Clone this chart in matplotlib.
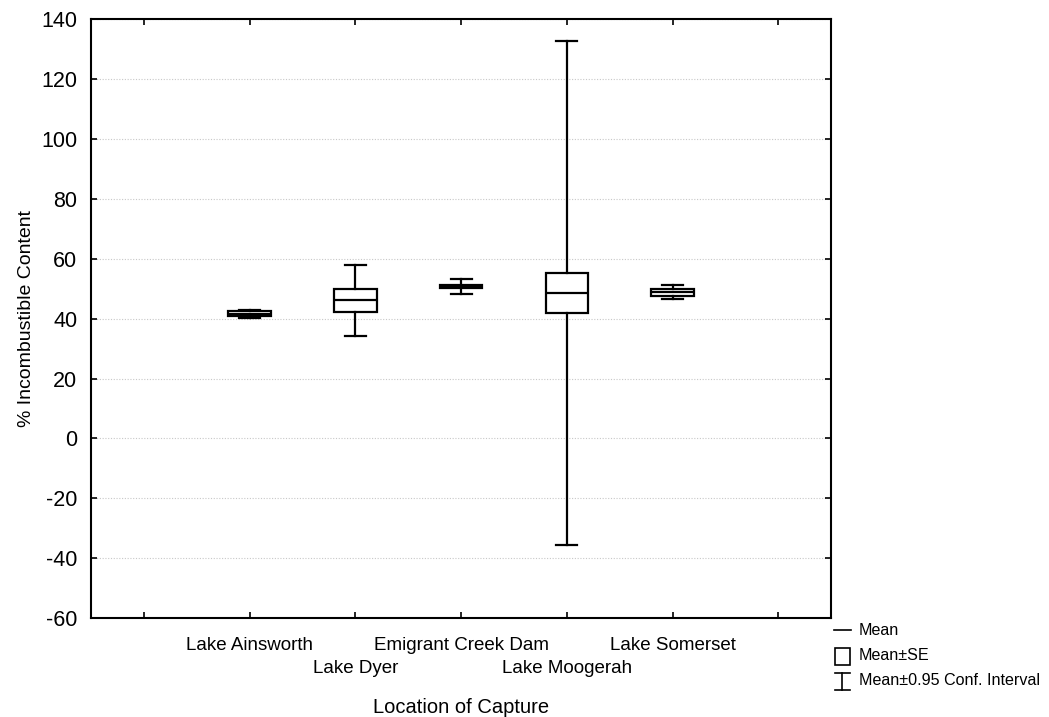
import numpy as np
import matplotlib
matplotlib.use("Agg")
import matplotlib.pyplot as plt
from matplotlib.lines import Line2D
from matplotlib.patches import Rectangle
from matplotlib.legend_handler import HandlerBase

plt.rcParams['axes.unicode_minus'] = False
NARROW = ['Liberation Sans Narrow', 'Liberation Sans', 'DejaVu Sans']
REG = ['Liberation Sans', 'DejaVu Sans']

# data
sites = ['Lake Ainsworth', 'Lake Dyer', 'Emigrant Creek Dam', 'Lake Moogerah', 'Lake Somerset']
means = [41.7, 46.1, 50.75, 48.5, 48.85]
se = [0.8, 3.75, 0.6, 6.7, 1.15]
ci = [1.35, 11.75, 2.35, 84.2, 2.35]
yticks = [-60, -40, -20, 0, 20, 40, 60, 80, 100, 120, 140]


class WhiskerHandler(HandlerBase):
    def create_artists(self, legend, orig_handle, xdescent, ydescent,
                       width, height, fontsize, trans):
        cx = width / 2 - xdescent
        w = width * 0.42
        top = height * 1.1 - ydescent
        bot = -ydescent - height * 0.45
        arts = [Line2D([cx, cx], [bot, top]),
                Line2D([cx - w, cx + w], [top, top]),
                Line2D([cx - w, cx + w], [bot, bot])]
        for a in arts:
            a.set_color('black')
            a.set_linewidth(1.2)
            a.set_transform(trans)
        return arts


class BoxHandler(HandlerBase):
    def create_artists(self, legend, orig_handle, xdescent, ydescent,
                       width, height, fontsize, trans):
        r = Rectangle((-xdescent + width * 0.1, -ydescent - height * 0.4),
                      width * 0.8, height * 1.5, facecolor='white',
                      edgecolor='black', linewidth=1.2, transform=trans)
        return [r]


fig = plt.figure(figsize=(10.49, 7.17), dpi=100)
ax = fig.add_axes([0.0868, 0.138, 0.7055, 0.835])

stats = []
for name, m, s, c in zip(sites, means, se, ci):
    stats.append(dict(label=name, med=m, q1=m - s, q3=m + s,
                      whislo=m - c, whishi=m + c, fliers=[]))
pos = np.arange(1, len(sites) + 1)
lp = dict(color='black', linewidth=1.6)
ax.bxp(stats, positions=pos, widths=0.4, capwidths=0.2, showfliers=False,
       patch_artist=True,
       boxprops=dict(facecolor='white', edgecolor='black', linewidth=1.6),
       medianprops=lp, whiskerprops=lp, capprops=lp, zorder=3)

ax.set_xlim(-0.5, len(sites) + 1.5)
ax.set_ylim(-60, 140)
ax.set_yticks(yticks)
ax.set_yticklabels([str(v) for v in yticks], family=REG, fontsize=15.5)

# upper row of labels on the major ticks, lower row on minor ticks
ticks = np.arange(0, len(sites) + 2)
upper = ['' if (t < 1 or t > len(sites) or t % 2 == 0) else sites[t - 1] for t in ticks]
ax.set_xticks(ticks)
ax.set_xticklabels(upper, family=NARROW, fontsize=13.5)
low_pos = [p for p in pos if p % 2 == 0]
ax.xaxis.remove_overlapping_locs = False
ax.set_xticks(low_pos, minor=True)
ax.set_xticklabels([sites[p - 1] for p in low_pos], minor=True,
                   family=NARROW, fontsize=13.5)

ax.tick_params(direction='in', length=4, width=1.2, top=True, right=True)
ax.tick_params(axis='y', pad=10)
ax.tick_params(axis='x', which='major', pad=14)
ax.tick_params(axis='x', which='minor', length=0, pad=30.5)
ax.yaxis.grid(True, linestyle=(0, (1, 1.5)), color='#c8c8c8', linewidth=0.8)
ax.set_axisbelow(True)
for sp in ax.spines.values():
    sp.set_linewidth(1.5)

ax.set_ylabel('% Incombustible Content', family=NARROW, fontsize=14, labelpad=4)
ax.set_xlabel('Location of Capture', family=NARROW, fontsize=14.5, labelpad=15)

h_mean = Line2D([], [], color='black', linewidth=1.2)
h_box = Rectangle((0, 0), 1, 1)
h_ci = Line2D([], [])
leg = fig.legend([h_mean, h_box, h_ci],
                 ['Mean', 'Mean\u00b1SE', 'Mean\u00b10.95 Conf. Interval'],
                 handler_map={Rectangle: BoxHandler(), h_ci: WhiskerHandler()},
                 loc='upper left', bbox_to_anchor=(0.787, 0.142), frameon=False,
                 handlelength=1.1, handletextpad=0.45, labelspacing=0.62,
                 borderpad=0.0, prop=dict(family=NARROW, size=11.6))

fig.savefig('out.png', dpi=100)
